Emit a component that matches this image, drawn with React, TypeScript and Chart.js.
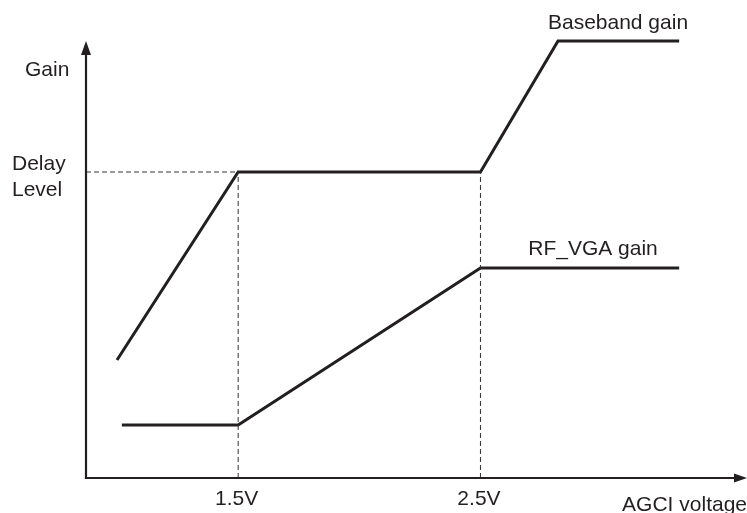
import React, { useEffect, useRef } from "react";
import { Chart, registerables } from "chart.js";

Chart.register(...registerables);

// AGCI voltage (V) and gain (arbitrary units)
const basebandX = [1.0, 1.5, 2.5, 2.82, 3.32];
const basebandY = [11.8, 30.6, 30.6, 43.7, 43.7];
const rfVgaX = [1.02, 1.5, 2.5, 3.32];
const rfVgaY = [5.3, 5.3, 21.0, 21.0];
const delayLevel = 30.6;
const xTicks = [1.5, 2.5];
const xTickLabels = ["1.5V", "2.5V"];
const xMin = 0.872;
const xMax = 3.6;
const yMin = 0;
const yMax = 45;
const yAxisTop = 43.7;

const FONT = '21px "Liberation Sans", Arial, Helvetica, sans-serif';

const pts = (xs: number[], ys: number[]) => xs.map((x, i) => ({ x, y: ys[i] }));

const axesPlugin = {
  id: "schematicAxes",
  afterDraw(chart: any) {
    const { ctx, scales } = chart;
    const xs = scales.x;
    const ys = scales.y;
    const x0 = xs.getPixelForValue(xMin);
    const y0 = ys.getPixelForValue(0);
    const yTop = ys.getPixelForValue(yAxisTop);
    const xRight = xs.right;
    ctx.save();
    ctx.strokeStyle = "#231f20";
    ctx.fillStyle = "#231f20";
    ctx.lineWidth = 2.2;
    // y axis
    ctx.beginPath();
    ctx.moveTo(x0, y0 + 1.1);
    ctx.lineTo(x0, yTop + 10);
    ctx.stroke();
    ctx.beginPath();
    ctx.moveTo(x0, yTop);
    ctx.lineTo(x0 - 5, yTop + 14);
    ctx.lineTo(x0 + 5, yTop + 14);
    ctx.closePath();
    ctx.fill();
    // x axis
    ctx.beginPath();
    ctx.moveTo(x0 - 1.1, y0);
    ctx.lineTo(xRight - 8, y0);
    ctx.stroke();
    ctx.beginPath();
    ctx.moveTo(xRight, y0);
    ctx.lineTo(xRight - 13, y0 - 4.5);
    ctx.lineTo(xRight - 13, y0 + 4.5);
    ctx.closePath();
    ctx.fill();

    // texts
    ctx.font = FONT;
    ctx.textBaseline = "alphabetic";
    ctx.fillStyle = "#231f20";
    ctx.textAlign = "left";
    ctx.fillText("Gain", 25, 76);
    ctx.fillText("Delay", 12, 170);
    ctx.fillText("Level", 12, 196);
    ctx.textAlign = "center";
    xTicks.forEach((t, i) => {
      ctx.fillText(xTickLabels[i], xs.getPixelForValue(t) - 1.5, 505);
    });
    ctx.textAlign = "right";
    ctx.fillText("AGCI voltage", 747, 511);
    ctx.textAlign = "center";
    ctx.fillText("Baseband gain", 618, 29);
    ctx.fillText("RF_VGA gain", 593, 255);
    ctx.restore();
  },
};

export default function App() {
  const ref = useRef<HTMLCanvasElement | null>(null);
  useEffect(() => {
    document.body.style.margin = "0";
    const canvas = ref.current;
    if (!canvas) return;
    const dash = {
      borderColor: "#333",
      borderWidth: 1,
      borderDash: [5, 3],
      pointRadius: 0,
      showLine: true,
      fill: false,
      clip: false as any,
    };
    const solid = {
      showLine: true,
      borderColor: "#231f20",
      borderWidth: 3,
      pointRadius: 0,
      tension: 0,
      fill: false,
      clip: false as any,
    };
    const chart = new Chart(canvas, {
      type: "scatter",
      data: {
        datasets: [
          { ...dash, label: "delay-h", data: [{ x: xMin, y: delayLevel }, { x: xTicks[0], y: delayLevel }] },
          { ...dash, label: "v1", data: [{ x: xTicks[0], y: 0 }, { x: xTicks[0], y: delayLevel }] },
          { ...dash, label: "v2", data: [{ x: xTicks[1], y: 0 }, { x: xTicks[1], y: delayLevel }] },
          { ...solid, label: "Baseband gain", data: pts(basebandX, basebandY) },
          { ...solid, label: "RF_VGA gain", data: pts(rfVgaX, rfVgaY) },
        ],
      },
      options: {
        animation: false,
        responsive: false,
        maintainAspectRatio: false,
        layout: { padding: { left: 86, right: 0, top: 28, bottom: 35 } },
        scales: {
          x: { type: "linear", display: false, min: xMin, max: xMax },
          y: { type: "linear", display: false, min: yMin, max: yMax },
        },
        plugins: { legend: { display: false }, tooltip: { enabled: false } },
        events: [],
      },
      plugins: [axesPlugin],
    });
    return () => chart.destroy();
  }, []);
  return (
    <div style={{ position: "relative", width: 747, height: 513, background: "#fff" }}>
      <canvas ref={ref} width={747} height={513} style={{ display: "block" }} />
    </div>
  );
}
